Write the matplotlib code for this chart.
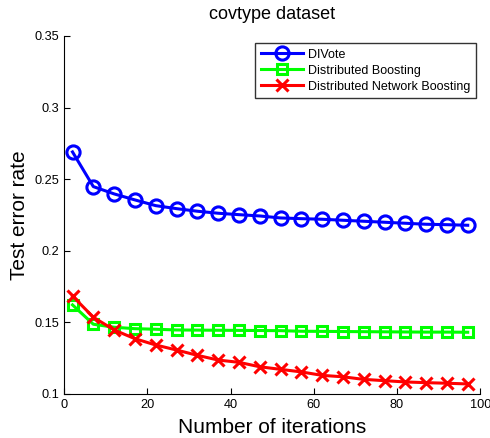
import matplotlib
matplotlib.use("Agg")
import matplotlib.pyplot as plt

iterations = [2, 7, 12, 17, 22, 27, 32, 37, 42, 47, 52, 57, 62, 67, 72, 77, 82, 87, 92, 97]
divote = [0.269, 0.2448, 0.2397, 0.2355, 0.2315, 0.2294, 0.2276, 0.2262, 0.2252, 0.2243,
          0.2229, 0.2224, 0.222, 0.2213, 0.2206, 0.2199, 0.2192, 0.2185, 0.2182, 0.2178]
dist_boost = [0.1622, 0.1487, 0.1466, 0.1456, 0.1452, 0.1447, 0.1446, 0.1445, 0.1444, 0.1443,
              0.1442, 0.1438, 0.1437, 0.1436, 0.1435, 0.1434, 0.1433, 0.1432, 0.1432, 0.1431]
dist_net_boost = [0.1684, 0.1536, 0.1447, 0.1386, 0.1342, 0.1307, 0.127, 0.1237, 0.1221, 0.119,
                  0.1172, 0.1154, 0.113, 0.112, 0.1102, 0.1093, 0.1084, 0.1079, 0.1075, 0.107]
xticks = [0, 20, 40, 60, 80, 100]
yticks = [0.1, 0.15, 0.2, 0.25, 0.3, 0.35]
ytick_labels = ["0.1", "0.15", "0.2", "0.25", "0.3", "0.35"]

plt.rcParams['font.family'] = ['Liberation Sans', 'DejaVu Sans']

fig = plt.figure(figsize=(4.9, 4.38), dpi=100)
ax = fig.add_axes([0.131, 0.1005, 0.849, 0.8175])

ax.plot(iterations, divote, color='#0000ff', lw=2.2, marker='o', ms=9.5, mfc='none',
        mew=2.2, label='DIVote')
ax.plot(iterations, dist_boost, color='#00ff00', lw=2.2, marker='s', ms=7.5, mfc='none',
        mew=2.2, label='Distributed Boosting')
ax.plot(iterations, dist_net_boost, color='#ff0000', lw=2.2, marker='x', ms=9,
        mew=2.2, label='Distributed Network Boosting')

ax.set_xlim(0, 100)
ax.set_ylim(0.1, 0.35)
ax.set_xticks(xticks)
ax.set_yticks(yticks)
ax.set_yticklabels(ytick_labels)
ax.tick_params(direction='in', labelsize=9.2, length=4, width=0.8)
ax.spines['top'].set_visible(False)
ax.spines['right'].set_visible(False)

ax.set_title('covtype dataset', fontsize=13, pad=12)
ax.set_xlabel('Number of iterations', fontsize=15, labelpad=5)
ax.set_ylabel('Test error rate', fontsize=15, labelpad=4)

leg = ax.legend(loc='upper right', bbox_to_anchor=(0.99, 0.98), fontsize=9, frameon=True,
                fancybox=False, edgecolor='black', handlelength=3.4, borderpad=0.45,
                labelspacing=0.32, handletextpad=0.4, borderaxespad=0)
leg.get_frame().set_linewidth(1.0)

fig.savefig('out.png', dpi=100)
